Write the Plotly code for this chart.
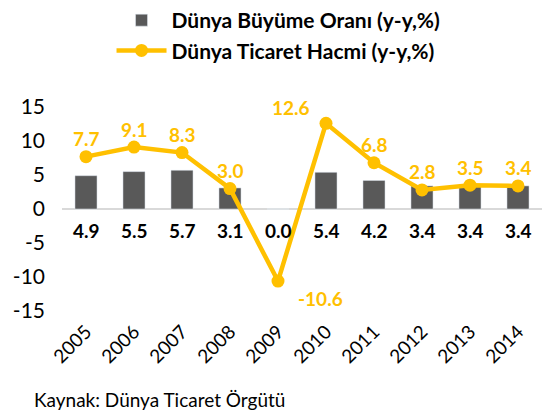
import plotly.graph_objects as go

years = ["2005", "2006", "2007", "2008", "2009", "2010", "2011", "2012", "2013", "2014"]
growth = [4.9, 5.5, 5.7, 3.1, 0.0, 5.4, 4.2, 3.4, 3.4, 3.4]
trade = [7.7, 9.1, 8.3, 3.0, -10.6, 12.6, 6.8, 2.8, 3.5, 3.4]
yticks = [-15, -10, -5, 0, 5, 10, 15]

FONT = "Lato"
GRAY = "#595959"
GOLD = "#FFC000"

fig = go.Figure()
fig.add_trace(go.Bar(
    x=years, y=growth, name="Dünya Büyüme Oranı (y-y,%)",
    marker=dict(color=GRAY), width=0.46,
))
fig.add_trace(go.Scatter(
    x=years, y=trade, name="Dünya Ticaret Hacmi (y-y,%)",
    mode="lines+markers",
    line=dict(color=GOLD, width=4.5),
    marker=dict(color=GOLD, size=13),
))

# bar labels below the zero line (category index positions)
for i, v in enumerate(growth):
    fig.add_annotation(x=i, y=-3.1, text=f"<b>{v:.1f}</b>", showarrow=False,
                       font=dict(family=FONT, size=19, color="#000000"))

# line labels
for i, v in enumerate(trade):
    xs, ys = 0, 18
    if v < 0:
        xs, ys = 42, -17
    elif v > 12:
        xs, ys = -35, 16
    fig.add_annotation(x=i, y=v, text=f"<b>{v:.1f}</b>", showarrow=False,
                       xshift=xs, yshift=ys,
                       font=dict(family=FONT, size=19, color=GOLD))

fig.update_layout(
    width=544, height=419,
    margin=dict(l=62, r=2, t=107, b=108, autoexpand=False),
    paper_bgcolor="white", plot_bgcolor="white",
    font=dict(family=FONT, color="#000000"),
    showlegend=True,
    legend=dict(
        xref="container", yref="container",
        x=0.205, y=1.0, xanchor="left", yanchor="top",
        orientation="v", itemwidth=50,
        font=dict(family=FONT, size=21, color="#000000", weight="bold"),
        tracegroupgap=0,
    ),
    xaxis=dict(
        type="category", range=[-0.5, 9.5], tickangle=-45, showgrid=False, showline=False,
        ticks="", tickfont=dict(family=FONT, size=19, color="#000000"),
        ticklabelstandoff=5,
    ),
    yaxis=dict(
        range=[-15, 15], tickvals=yticks, ticktext=[str(t) for t in yticks],
        showgrid=False, showline=False,
        zeroline=True, zerolinecolor="#D9D9D9", zerolinewidth=2,
        tickfont=dict(family=FONT, size=21, color="#000000"), ticks="",
        ticklabelstandoff=16,
    ),
)

fig.add_annotation(xref="paper", yref="paper", x=-0.0625, y=-0.436,
                   xanchor="left", yanchor="middle", showarrow=False,
                   text="Kaynak: Dünya Ticaret Örgütü",
                   font=dict(family=FONT, size=19, color="#000000"))

fig.write_html("out.html")
